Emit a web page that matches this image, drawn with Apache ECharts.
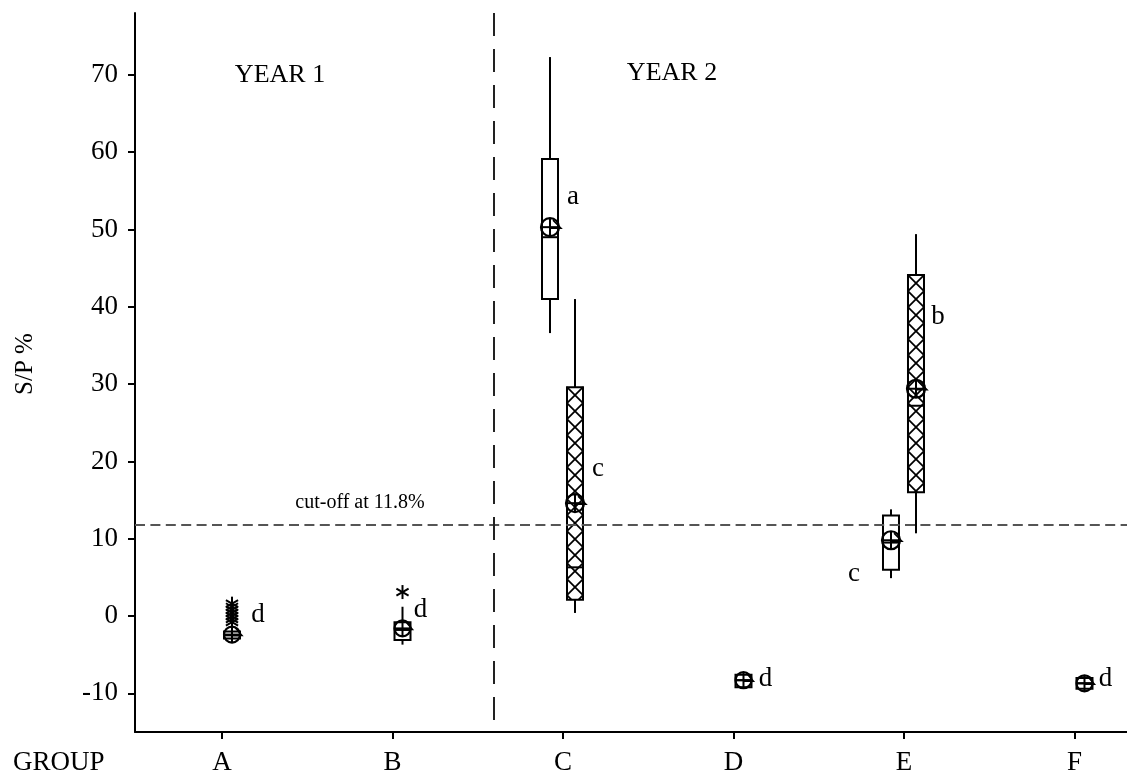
<!DOCTYPE html>
<html><head><meta charset="utf-8">
<script src="https://cdn.jsdelivr.net/npm/echarts@6/dist/echarts.min.js"></script>
<style>html,body{margin:0;padding:0;background:#fff}#c{width:1127px;height:780px}</style>
</head><body><div id="c"></div><script>
// ---------------- data ----------------
const groups = ['A','B','C','D','E','F'];
const yTicks = [-10,0,10,20,30,40,50,60,70];
const cutoff = 11.8;
const yearDivider = 2.595;

// plain (open) boxes
const plainGroups = ['C','E'];
const plainLow    = [36.6, 4.9];
const plainQ1     = [41.0, 6.0];
const plainMedian = [49.0, 9.5];
const plainQ3     = [59.1, 13.0];
const plainHigh   = [72.3, 13.8];
const plainMean   = [50.3, 9.8];

// cross-hatched boxes
const hatchGroups = ['C','E'];
const hatchLow    = [0.4, 10.7];
const hatchQ1     = [2.1, 16.0];
const hatchMedian = [6.3, 27.2];
const hatchQ3     = [29.6, 44.1];
const hatchHigh   = [41.0, 49.4];
const hatchMean   = [14.6, 29.4];

// small boxes
const smallGroups = ['A','B','D','F'];
const smallLow    = [-3.0, -3.7, -9.2, -9.4];
const smallQ1     = [-2.9, -3.1, -9.2, -9.4];
const smallMedian = [-2.5, -1.8, -8.3, -8.7];
const smallQ3     = [-2.0, -0.8, -7.6, -8.0];
const smallHigh   = [-1.0, 1.2, -7.6, -7.8];
const smallMean   = [-2.4, -1.6, -8.3, -8.7];

// outliers
const outlierGroups = ['A','A','A','A','A','A','A','B'];
const outlierValues = [1.6, 1.2, 0.8, 0.4, 0.0, -0.4, -0.8, 3.1];

// significance letters
const letterGroups = ['C','C','E','E','A','B','D','F'];
const letterTexts  = ['a','c','b','c','d','d','d','d'];
const letterValues = [54.2, 19.0, 38.7, 5.4, 0.1, 0.8, -8.1, -8.1];

// ---------------- styling ----------------
const FONT = 'Liberation Serif';
const PLAIN_DX = -13, HATCH_DX = 12, SMALL_DX = 10;
const LETTER_DX = [10, 35, 34, -50, 36, 28, 32, 31];
const BOX_HALF = 8;

const gx = g => groups.indexOf(g) + 1;

function boxRender(offsetPx, hatched, r) {
  return function (params, api) {
    const x = api.value(0);
    const py = v => api.coord([x, v])[1];
    const px = api.coord([x, 0])[0] + offsetPx;
    const yLow = py(api.value(1)), yQ1 = py(api.value(2)), yMed = py(api.value(3)),
          yQ3 = py(api.value(4)), yHigh = py(api.value(5)), yMean = py(api.value(6));
    const L = px - BOX_HALF, R = px + BOX_HALF, W = R - L;
    const st = {stroke:'#000', lineWidth:2};
    const ch = [];
    ch.push({type:'line', shape:{x1:px,y1:yHigh,x2:px,y2:yQ3}, style:st});
    ch.push({type:'line', shape:{x1:px,y1:yQ1,x2:px,y2:yLow}, style:st});
    ch.push({type:'rect', shape:{x:L,y:yQ3,width:W,height:Math.max(yQ1-yQ3,0.5)}, style:{fill:'#fff',stroke:'#000',lineWidth:2}});
    if (hatched) {
      const h = W;
      for (let y0 = yQ3; y0 < yQ1 - 0.5; y0 += h) {
        const y1 = Math.min(y0 + h, yQ1);
        const f = (y1 - y0) / h;
        ch.push({type:'line', shape:{x1:L,y1:y0,x2:L+f*W,y2:y1}, style:{stroke:'#000',lineWidth:1.8}});
        ch.push({type:'line', shape:{x1:R,y1:y0,x2:R-f*W,y2:y1}, style:{stroke:'#000',lineWidth:1.8}});
      }
    }
    ch.push({type:'line', shape:{x1:L,y1:yMed,x2:R,y2:yMed}, style:st});
    ch.push({type:'circle', shape:{cx:px,cy:yMean,r:r}, style:{fill:'none',stroke:'#000',lineWidth:2.2}});
    ch.push({type:'line', shape:{x1:px-r,y1:yMean,x2:px+r,y2:yMean}, style:st});
    ch.push({type:'line', shape:{x1:px,y1:yMean-r,x2:px,y2:yMean+r}, style:st});
    ch.push({type:'polyline', shape:{points:[[px+3,yMean-7],[px+r+2,yMean+1],[px,yMean+1]]}, style:{fill:'none',stroke:'#000',lineWidth:1.5}});
    return {type:'group', children:ch};
  };
}

function asteriskRender(params, api) {
  const p = api.coord([api.value(0), api.value(1)]);
  const cx = p[0] + SMALL_DX, cy = p[1], s = 7;
  const st = {stroke:'#000', lineWidth:2};
  return {type:'group', children:[
    {type:'line', shape:{x1:cx,y1:cy-s,x2:cx,y2:cy+s}, style:st},
    {type:'line', shape:{x1:cx-s*0.87,y1:cy-s*0.5,x2:cx+s*0.87,y2:cy+s*0.5}, style:st},
    {type:'line', shape:{x1:cx-s*0.87,y1:cy+s*0.5,x2:cx+s*0.87,y2:cy-s*0.5}, style:st}
  ]};
}

function letterRender(params, api) {
  const i = params.dataIndex;
  const p = api.coord([api.value(0), api.value(1)]);
  return {type:'text', x:p[0] + LETTER_DX[i], y:p[1],
    style:{text:letterTexts[i], font:'27px "' + FONT + '"', fill:'#000', align:'center', verticalAlign:'middle'}};
}

const plainData = plainGroups.map((g,i)=>[gx(g), plainLow[i], plainQ1[i], plainMedian[i], plainQ3[i], plainHigh[i], plainMean[i]]);
const hatchData = hatchGroups.map((g,i)=>[gx(g), hatchLow[i], hatchQ1[i], hatchMedian[i], hatchQ3[i], hatchHigh[i], hatchMean[i]]);
const smallData = smallGroups.map((g,i)=>[gx(g), smallLow[i], smallQ1[i], smallMedian[i], smallQ3[i], smallHigh[i], smallMean[i]]);
const outlierData = outlierGroups.map((g,i)=>[gx(g), outlierValues[i]]);
const letterData = letterGroups.map((g,i)=>[gx(g), letterValues[i]]);

const chart = echarts.init(document.getElementById('c'), null, {renderer:'canvas'});
const axisFont = {color:'#000', fontFamily:FONT, fontSize:27};
chart.setOption({
  animation:false,
  backgroundColor:'#fff',
  grid:{left:135, right:0, top:13, bottom:48, containLabel:false},
  xAxis:{
    type:'value', min:0.4897, max:6.308,
    splitLine:{show:false},
    axisLine:{show:true, onZero:false, lineStyle:{color:'#000', width:2}},
    axisTick:{show:true, length:7, lineStyle:{color:'#000', width:2}, customValues:[1,2,3,4,5,6]},
    axisLabel:Object.assign({margin:17, customValues:[1,2,3,4,5,6], formatter:v=>groups[Math.round(v)-1]}, axisFont)
  },
  yAxis:{
    type:'value', min:-15, max:78,
    splitLine:{show:false},
    axisLine:{show:true, onZero:false, lineStyle:{color:'#000', width:2}},
    axisTick:{show:true, length:7, lineStyle:{color:'#000', width:2}, customValues:yTicks},
    axisLabel:Object.assign({margin:17, customValues:yTicks}, axisFont)
  },
  graphic:[
    {type:'text', left:13, top:749, style:{text:'GROUP', font:'27px "'+FONT+'"', fill:'#000'}},
    {type:'text', x:25, y:364, rotation:Math.PI/2, style:{text:'S/P %', font:'25px "'+FONT+'"', fill:'#000', align:'center', verticalAlign:'middle'}},
    {type:'text', x:280, y:75, style:{text:'YEAR 1', font:'26px "'+FONT+'"', fill:'#000', align:'center', verticalAlign:'middle'}},
    {type:'text', x:672, y:73, style:{text:'YEAR 2', font:'26px "'+FONT+'"', fill:'#000', align:'center', verticalAlign:'middle'}},
    {type:'text', x:360, y:503, style:{text:'cut-off at 11.8%', font:'20px "'+FONT+'"', fill:'#000', align:'center', verticalAlign:'middle'}}
  ],
  series:[
    {type:'custom', name:'lines', data:[], renderItem:()=>null,
      markLine:{silent:true, symbol:'none', label:{show:false},
        data:[
          {yAxis:cutoff, lineStyle:{type:[10,5.4], color:'#555', width:2}},
          [{coord:[yearDivider, 78], lineStyle:{type:[23,13], color:'#222', width:2}}, {coord:[yearDivider, -13.45]}]
        ]}},
    {type:'custom', name:'plain', data:plainData, renderItem:boxRender(PLAIN_DX, false, 9), z:3},
    {type:'custom', name:'hatched', data:hatchData, renderItem:boxRender(HATCH_DX, true, 9), z:3},
    {type:'custom', name:'small', data:smallData, renderItem:boxRender(SMALL_DX, false, 8), z:3},
    {type:'custom', name:'outliers', data:outlierData, renderItem:asteriskRender, z:4},
    {type:'custom', name:'letters', data:letterData, renderItem:letterRender, z:5}
  ]
});
</script></body></html>
